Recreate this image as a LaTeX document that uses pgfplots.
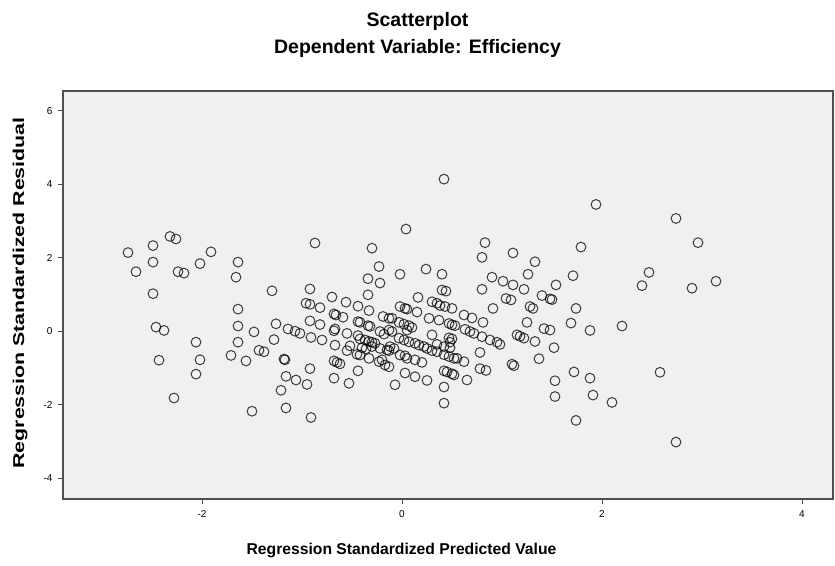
\documentclass[border=0pt]{standalone}
\usepackage{fontspec}
\setmainfont{Liberation Sans}
\usepackage{pgfplots}
\pgfplotsset{compat=1.18}
\definecolor{bg}{HTML}{F0F0F0}
\definecolor{frame}{HTML}{505050}
\begin{document}
\begin{tikzpicture}
\begin{axis}[name=ax, scale only axis, width=770pt, height=408pt,
 xmin=-3.39, xmax=4.31, ymin=-4.57, ymax=6.54,
 axis background/.style={fill=bg},
 axis line style={frame, line width=1.3pt},
 xtick={-2,0,2,4}, ytick={-4,-2,0,2,4,6},
 tick pos=left, tick align=outside, major tick length=5pt,
 tick style={frame, line width=1pt},
 /pgf/number format/assume math mode=true,
 tick label style={font=\fontsize{10}{12}\selectfont},
 xticklabel style={yshift=-3pt},
 yticklabel style={xshift=-2pt},
 xlabel={Regression Standardized Predicted Value},
 ylabel={Regression Standardized Residual},
 label style={font=\bfseries\fontsize{15.7}{18}\selectfont},
 xlabel style={at={(axis description cs:0.4396,0)}, yshift=-51pt, anchor=center},
 ylabel style={at={(axis description cs:0,0.505)}, yshift=43pt, anchor=center, xscale=1.36},
 clip=false,
]
\addplot[only marks, mark=o, mark size=4.9pt, mark options={line width=1pt, draw=black, draw opacity=0.75}] table {
x y
-2.74 2.14
-2.66 1.62
-2.49 2.33
-2.49 1.88
-2.49 1.02
-2.32 2.58
-2.26 2.51
-2.24 1.62
-2.18 1.58
-2.02 1.84
-1.91 2.16
-1.64 1.88
-1.66 1.47
-1.30 1.10
-1.64 0.60
-2.46 0.11
-2.38 0.02
-2.06 -0.30
-2.43 -0.79
-2.02 -0.78
-2.06 -1.17
-2.28 -1.82
-1.64 0.14
-1.64 -0.30
-1.48 -0.02
-1.71 -0.66
-1.56 -0.81
-1.43 -0.52
-1.38 -0.56
-1.26 0.20
-1.28 -0.23
-1.14 0.06
-1.07 0.00
-1.02 -0.06
-1.18 -0.76
-1.17 -0.78
-1.16 -1.23
-1.06 -1.33
-1.21 -1.61
-1.16 -2.09
-1.50 -2.18
-0.91 -2.35
-0.92 1.15
-0.87 2.40
-0.96 0.76
-0.92 0.73
-0.82 0.64
-0.70 0.93
-0.56 0.79
-0.92 0.28
-0.82 0.18
-0.91 -0.17
-0.80 -0.24
-0.68 0.01
-0.68 0.47
-0.66 0.44
-0.59 0.38
-0.67 0.06
-0.55 -0.06
-0.67 -0.38
-0.52 -0.40
-0.55 -0.53
-0.92 -1.02
-0.95 -1.45
-0.68 -0.81
-0.65 -0.85
-0.62 -0.89
-0.68 -1.28
-0.53 -1.42
-0.30 2.26
-0.23 1.76
-0.34 1.43
-0.22 1.31
-0.02 1.55
-0.34 0.99
-0.44 0.68
-0.33 0.56
-0.44 0.26
-0.42 0.24
-0.34 0.15
-0.32 0.13
-0.19 0.40
-0.13 0.35
-0.44 -0.12
-0.42 -0.21
-0.37 -0.24
-0.33 -0.28
-0.30 -0.30
-0.27 -0.33
-0.22 -0.01
-0.18 -0.08
-0.45 -0.63
-0.42 -0.65
-0.33 -0.74
-0.23 -0.83
-0.17 -0.92
-0.30 -0.42
-0.22 -0.47
-0.15 -0.51
-0.44 -1.08
-0.13 0.03
-0.10 -0.01
-0.10 0.35
-0.03 0.24
-0.02 0.67
-0.03 -0.19
-0.13 -0.53
-0.02 -0.65
-0.13 -0.97
-0.07 -1.46
-0.12 -0.42
-0.08 -0.47
-0.40 -0.45
-0.36 -0.48
-0.20 -0.78
0.42 4.14
0.04 2.78
0.24 1.69
0.40 1.55
0.40 1.12
0.44 1.09
0.16 0.92
0.30 0.80
0.35 0.76
0.38 0.70
0.43 0.67
0.50 0.62
0.03 0.62
0.05 0.60
0.15 0.52
0.02 0.19
0.07 0.15
0.10 0.10
0.27 0.35
0.37 0.30
0.47 0.21
0.50 0.17
0.05 0.03
0.30 -0.10
0.47 -0.18
0.50 -0.21
0.02 -0.24
0.07 -0.29
0.13 -0.33
0.17 -0.38
0.22 -0.42
0.25 -0.47
0.35 -0.36
0.42 -0.42
0.48 -0.45
0.30 -0.53
0.35 -0.56
0.42 -0.64
0.47 -0.69
0.03 -0.67
0.05 -0.74
0.13 -0.78
0.20 -0.85
0.03 -1.14
0.13 -1.24
0.25 -1.34
0.42 -1.08
0.45 -1.11
0.50 -1.16
0.42 -1.52
0.42 -1.96
0.48 -0.30
0.83 2.41
0.80 2.01
0.90 1.47
0.80 1.14
0.91 0.62
0.62 0.44
0.70 0.36
0.53 0.15
0.63 0.05
0.68 -0.01
0.72 -0.06
0.81 0.24
0.80 -0.15
0.88 -0.24
0.95 -0.30
0.98 -0.36
0.52 -0.74
0.55 -0.74
0.62 -0.83
0.78 -0.58
0.78 -1.02
0.84 -1.07
0.65 -1.33
0.52 -1.19
1.11 2.13
1.33 1.89
1.01 1.36
1.11 1.26
1.26 1.55
1.54 1.26
1.22 1.14
1.40 0.97
1.48 0.88
1.50 0.86
1.04 0.89
1.09 0.85
1.28 0.67
1.31 0.62
1.25 0.24
1.42 0.07
1.48 0.03
1.15 -0.10
1.18 -0.14
1.22 -0.19
1.33 -0.28
1.52 -0.45
1.37 -0.75
1.10 -0.90
1.12 -0.94
1.53 -1.35
1.53 -1.78
1.94 3.45
2.74 3.07
2.96 2.41
1.79 2.29
1.71 1.51
2.47 1.60
2.40 1.24
2.90 1.17
3.14 1.36
1.74 0.62
1.69 0.22
1.88 0.02
2.20 0.14
1.72 -1.11
1.88 -1.28
2.58 -1.12
1.91 -1.74
2.10 -1.94
1.74 -2.43
2.74 -3.02
};
\node[font=\bfseries\fontsize{19.5}{22}\selectfont] at ([yshift=70pt]axis description cs:0.4604,1) {Scatterplot};
\node[font=\bfseries\fontsize{19.5}{22}\selectfont] at ([yshift=43pt]axis description cs:0.4604,1) {Dependent Variable: Efficiency};
\end{axis}
\pgfresetboundingbox
\useasboundingbox ([xshift=-63pt,yshift=-66pt]ax.south west) rectangle ([xshift=2pt,yshift=91pt]ax.north east);
\end{tikzpicture}
\end{document}
